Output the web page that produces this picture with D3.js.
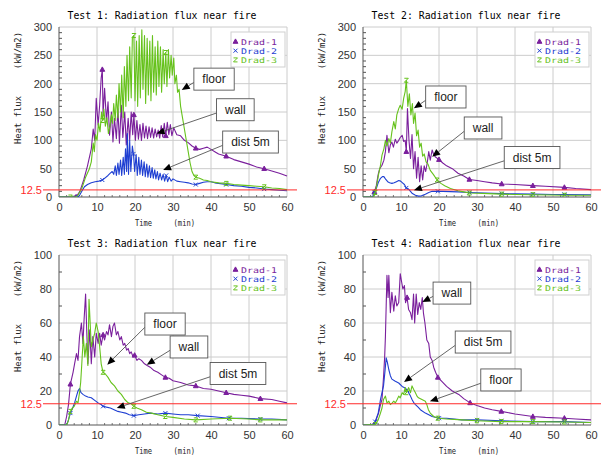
<!DOCTYPE html>
<html>
<head>
<meta charset="utf-8">
<script src="https://cdn.jsdelivr.net/npm/d3@7"></script>
<style>
body { margin: 0; background: #fff; }
</style>
</head>
<body>
<svg id="svg" width="608" height="455"></svg>
<script>
/*global d3*/

// ---- data (time in min, heat flux in kW/m2) ----
const sensorNames = ['Drad-1', 'Drad-2', 'Drad-3'];
const markerTimes = [3, 11.4, 19.7, 28.1, 36.4, 44.7, 53];
const xTicks = [0, 10, 20, 30, 40, 50, 60];
const limit = 12.5;

// Test 1
const t1Rad1 = [0,4.5,5.5,6.5,7.5,8.5,9,9.4,9.8,10.3,10.7,11.1,11.4,11.6,12,12.5,12.9,13.3,13.8,14.2,14.6,15.1,15.5,15.9,16.4,16.8,17.3,17.7,18.2,18.6,19,19.4,19.7,20.1,20.5,20.9,21.3,21.7,22.1,22.5,22.9,23.3,23.7,24.1,24.5,24.9,25.3,25.7,26.1,26.5,26.9,27.3,27.7,28.1,28.5,28.9,29.3,29.7,30.2,31,32,33,34,35,36,37,38,39,40,41,42,44,46,48,50,52,54,56,58,60];
const v1Rad1 = [0,0,10,30,55,85,120,100,174,127,162,210,225,145,192,133,168,109,150,97,139,103,156,95,162,105,150,92,139,100,150,110,145,100,135,102,128,100,130,104,125,103,124,105,122,104,120,106,118,104,126,106,130,108,132,110,128,108,122,110,108,100,96,90,86,84,86,88,84,80,76,72,66,62,58,53,50,46,42,37];
const t1Rad2 = [0,5,5.5,6,6.7,7.5,8.5,9.5,10.5,11.4,12,12.9,13.5,14,14.4,14.8,15.1,15.5,15.8,16.2,16.5,16.9,17.2,17.5,17.8,18,18.3,18.6,18.9,19.3,19.6,19.9,20.3,20.6,21,21.3,21.7,22,22.4,22.7,23.1,23.4,23.8,24.1,24.5,24.8,25.2,25.5,25.9,26.2,26.6,27,27.4,27.8,28.2,28.6,29,29.5,30,31,32,33,34,35,36,37,38,39,40,41,42,44,46,48,50,52,54,56,58,60];
const v1Rad2 = [0,0,4,10,18,22,25,27,28,30,33,38,42,45,40,55,38,60,40,65,38,70,40,85,45,112,40,100,45,90,76,45,75,38,70,40,65,38,62,36,58,35,55,34,52,33,48,32,45,30,42,30,40,28,38,27,35,28,32,28,27,26,25,23,22,24,26,27,27,25,24,22,20,19,17,16,14,13,12,11];
const t1Rad3 = [0,3,4.5,5,6,7,8,8.5,9,9.3,9.6,10,10.4,10.8,11.2,11.5,11.8,12.2,12.6,13,13.4,13.8,14.1,14.4,14.8,15.1,15.5,15.8,16.2,16.5,16.9,17.2,17.6,17.9,18.3,18.6,19,19.3,19.7,20,20.4,20.7,21.1,21.4,21.8,22.1,22.5,22.8,23.2,23.5,23.9,24.2,24.6,24.9,25.3,25.6,26,26.3,26.7,27,27.4,27.7,28.1,28.4,28.8,29.1,29.5,29.8,30.2,30.5,30.9,31.2,31.6,32,32.5,33,33.5,34,34.5,35,35.5,36,37,38,39,40,42,44,46,48,50,52,54,56,58,60];
const v1Rad3 = [0,0,0,3,15,35,50,62,95,80,110,100,130,115,150,135,155,125,140,112,125,145,130,165,135,180,140,200,150,215,140,230,160,250,170,265,175,280,285,170,275,160,285,175,295,190,285,165,280,180,275,170,285,185,265,180,275,195,265,185,260,200,255,195,260,210,250,215,245,200,215,185,190,160,140,120,100,80,60,45,38,35,33,30,29,27,25,24,22,21,20,19,18,16,15,13];

// Test 2
const t2Rad1 = [0,2.8,3,3.5,4,4.4,5,5.5,5.9,6.3,6.8,7.2,7.6,8,8.5,8.9,9.4,9.8,10.3,10.7,11.1,11.4,11.7,12.1,12.5,12.9,13.3,13.7,14.1,14.5,14.9,15.3,15.7,16.1,16.5,16.9,17.3,17.7,18.2,18.6,19,20,21,22,23.5,25,26.5,28,30,32,34,36.5,40,44.7,48,53,56,60];
const v2Rad1 = [0,0,9,20,40,50,56,65,80,109,78,92,97,88,102,95,100,105,109,98,100,80,156,100,68,110,50,80,33,70,27,55,30,55,45,60,80,65,83,75,71,66,60,55,50,42,37,31,29,27,25,23,22,20,19,17,15,13];
const t2Rad2 = [0,2.5,3,3.5,4,4.6,5.1,5.5,6,6.5,7,7.6,8.2,8.8,9.4,9.9,10.4,10.9,11.4,12,12.5,13,13.8,14.6,15.4,16.4,17.3,18.2,19.7,21,23,25,28,32,36.5,40,44.7,50,53,60];
const v2Rad2 = [0,0,8,15,25,33,36,36,31,27,25,24,25,27,29,28,25,22,16,14,10,6,3,1.5,2,5,8,10,10,10,9.5,9,8,7,6,5.5,5,4.5,4.5,4];
const t2Rad3 = [0,2.8,3.2,3.6,4.1,4.6,5,5.5,5.9,6.3,6.8,7.2,7.6,8.1,8.5,8.9,9.4,9.8,10.3,10.7,11.1,11.4,11.8,12.2,12.6,13,13.3,13.7,14.1,14.5,14.9,15.3,15.7,16.1,16.6,17.1,17.7,18.5,19.5,20.5,21.5,23,25,26.5,28,30,33,36.5,40,44.7,50,53,60];
const v2Rad3 = [0,0,8,20,40,56,74,85,100,90,103,95,115,133,120,145,156,162,155,174,186,206,160,182,145,165,130,148,108,118,88,95,72,76,62,58,47,40,30,24,20,15,11,9,7,6.5,6,5,4.5,4,3.5,3,3];

// Test 3
const t3Rad1 = [0,1.5,2,2.5,3,3.4,3.7,4.1,4.6,5,5.4,5.9,6.3,6.6,7,7.3,7.6,8.1,8.5,8.9,9.4,9.8,10.3,10.7,11.1,11.6,12,12.5,12.9,13.3,13.8,14.2,14.6,15.1,15.5,16,16.4,16.9,17.3,17.8,18.2,18.6,19,19.5,19.9,20.5,21,21.7,22.5,23.2,24,25,26,27,28,29,30,32,34,36,38,40,42,44,46,48,50,53,56,58,60];
const v3Rad1 = [0,0,5,12,24,28,31,36,42,38,52,60,48,62,77,55,36,56,36,52,40,54,48,54,47,53,50,55,53,59,52,58,60,53,55,50,52,47,48,44,45,42,43,40,41,38,39,38,36,35,34,32,31,29.5,28,27.5,26,25,23.5,23,21.5,21,20,19,18,17.5,17,15.5,15,14,13];
const t3Rad2 = [0,2,2.5,3,3.6,4.1,4.6,5,5.4,5.8,6.3,7,7.6,8.5,9.4,10.3,11.1,11.6,12.5,13.5,14.5,15.5,16.5,17.5,18.5,19.7,21,22.5,24,26,28,30,32,34,36.5,40,44.7,48,53,56,60];
const v3Rad2 = [0,0,3,7,10,13,17,20,21.5,19,18,17,16.5,16,14.5,13,12,11,10.5,10,9,8,7.5,7,6,5.5,6,6.5,7,6.5,7,6.5,6,6,5.5,5,4,4,3.5,3.5,3];
const t3Rad3 = [0,2,2.4,3,3.5,4,4.6,5,5.4,5.7,6,6.4,6.8,7.2,7.6,7.9,8.2,8.5,8.9,9.4,9.8,10.3,10.7,11.1,11.6,12.2,12.9,13.7,14.6,15.5,16.4,17.3,18.2,19,19.7,20.5,21.7,23,24.3,26,28,30,33,36,40,45,50,53,57,60];
const v3Rad3 = [0,0,2,8,10,11,14,13,19,25,36,52,40,48,35,74,60,46,50,54,60,55,46,36,31,30,28,25,23,20,18,15,13,12.5,11,10,9,7.5,7,6,5,4.5,3.5,3,3.5,4,3.5,3,3,3];

// Test 4
const t4Rad1 = [0,2.8,3.3,4.1,4.6,5,5.4,5.7,5.9,6.1,6.3,6.6,6.8,7.2,7.6,8.1,8.5,8.9,9.4,9.8,10.1,10.5,10.9,11.2,11.6,12,12.5,12.9,13.3,13.6,14,14.4,14.8,15.2,15.6,15.9,16.3,16.8,17.3,17.7,18.2,18.6,19.1,19.7,20.8,22,23.5,25.2,26.5,28.2,30,32,34,36.4,40,44.7,48,53,56,60];
const v4Rad1 = [0,0,2,7,12,15,28,40,52,70,88,75,88,66,78,67,76,70,72,89,85,80,82,72,75,68,66,62,77,60,77,65,72,68,75,66,60,50,48,40,38,34,31,28,25.5,22.7,20,18,15.5,13,11.5,10,9,8,6.5,5,4.5,4,3.5,3];
const t4Rad2 = [0,2.8,3.2,4,4.6,5,5.4,5.8,6.1,6.4,6.8,7.2,7.6,8.5,9.4,10.3,11.1,11.6,12,12.5,12.9,13.4,13.8,14.5,15.1,16.4,18.2,20,22,26,30,36.4,44.7,53,60];
const v4Rad2 = [0,0,2,7,15,19,23,32,39.5,37,32.5,29,27,25.7,24.7,22.7,21.8,20.5,19,17,15,13,12,10.5,9,7,5,4,4,3,3,2.5,2,2,1.5];
const t4Rad3 = [0,3.2,4,4.6,5,5.4,5.9,6.3,6.8,7.2,7.7,8.1,8.5,9,9.4,9.8,10.3,10.7,11.1,11.4,11.6,12,12.5,12.9,13.3,13.8,14.2,14.6,15.5,16.4,16.8,17.2,17.7,18.6,19.7,22,26,30,36.4,44.7,53,60];
const v4Rad3 = [0,0.2,3,7,10,15,17,13,14,12,13,14,13,15,17,16,19,18,22,19,20,22,19,23,21,19,17,16,15,14,12,9,7,5,4,3.5,3,2.5,2,2,1.8,1.5];

// ---- annotation layout (label centre and arrow tip, in data units) ----
const notes1 = [['floor', 40.8, 208, 32.3, 189], ['wall', 46.4, 154, 25.7, 112], ['dist 5m', 50.4, 97, 27.4, 47.6]];
const notes2 = [['floor', 21.8, 176.5, 13.4, 156.5], ['wall', 31.6, 121.8, 18.2, 71], ['dist 5m', 44.5, 69.7, 13.4, 12]];
const notes3 = [['floor', 27.9, 59.4, 12.7, 35.5], ['wall', 34.2, 45.9, 23.1, 35.5], ['dist 5m', 47.1, 30.3, 15.2, 10]];
const notes4 = [['wall', 23.4, 77.6, 15.6, 72.4], ['dist 5m', 31.6, 48.8, 10.8, 25.3], ['floor', 36.3, 26.5, 17.6, 13.9]];

const tests = [
    {title: 'Test 1: Radiation flux near fire', ox: 0, oy: 0, yMax: 300, yStep: 50,
     series: [[t1Rad1, v1Rad1], [t1Rad2, v1Rad2], [t1Rad3, v1Rad3]], notes: notes1},
    {title: 'Test 2: Radiation flux near fire', ox: 304, oy: 0, yMax: 300, yStep: 50,
     series: [[t2Rad1, v2Rad1], [t2Rad2, v2Rad2], [t2Rad3, v2Rad3]], notes: notes2},
    {title: 'Test 3: Radiation flux near fire', ox: 0, oy: 228, yMax: 100, yStep: 20,
     series: [[t3Rad1, v3Rad1], [t3Rad2, v3Rad2], [t3Rad3, v3Rad3]], notes: notes3},
    {title: 'Test 4: Radiation flux near fire', ox: 304, oy: 228, yMax: 100, yStep: 20,
     series: [[t4Rad1, v4Rad1], [t4Rad2, v4Rad2], [t4Rad3, v4Rad3]], notes: notes4}
];

const colors = ['#7a1f9c', '#1f3fd2', '#66c21c'];
const mono = "'DejaVu Sans Mono', monospace";
const sans = "'Liberation Sans', Arial, sans-serif";

const svg = d3.select('#svg');

const markerPath = [
    'M0,-2.6L2.4,1.8L-2.4,1.8Z',        // triangle
    'M-2,-2L2,2M-2,2L2,-2',             // x
    'M-2,-2H2L-2,2H2'                   // z
];

const drawPanel = (p, idx) => {
    const left = p.ox + 59, right = p.ox + 287;
    const top = p.oy + 27, bottom = p.oy + 197;

    const x = d3.scaleLinear().domain([0, 60]).range([left, right]);
    const y = d3.scaleLinear().domain([0, p.yMax]).range([bottom, top]);

    const g = svg.append('g');

    // title
    g.append('text')
        .attr('x', p.ox + 162).attr('y', p.oy + 19)
        .attr('text-anchor', 'middle')
        .attr('font-family', mono).attr('font-size', 10)
        .attr('textLength', 189).attr('lengthAdjust', 'spacingAndGlyphs')
        .attr('fill', '#000')
        .text(p.title);

    // grid
    const yMajor = d3.range(0, p.yMax + 0.001, p.yStep);
    g.append('g').selectAll('line').data(xTicks.slice(1))
        .enter().append('line')
        .attr('x1', d => x(d)).attr('x2', d => x(d))
        .attr('y1', top).attr('y2', bottom)
        .attr('stroke', '#cccccc');
    g.append('g').selectAll('line').data(yMajor.slice(1))
        .enter().append('line')
        .attr('x1', left).attr('x2', right)
        .attr('y1', d => y(d)).attr('y2', d => y(d))
        .attr('stroke', '#cccccc');

    // axes labels
    const yAxisG = g.append('g')
        .attr('transform', `translate(${left},0)`)
        .call(d3.axisLeft(y).tickValues(yMajor).tickSize(0).tickPadding(7));
    yAxisG.select('.domain').remove();
    yAxisG.selectAll('text').attr('font-family', sans).attr('font-size', 11).attr('fill', '#333');

    const xAxisG = g.append('g')
        .attr('transform', `translate(0,${bottom})`)
        .call(d3.axisBottom(x).tickValues(xTicks).tickSize(0).tickPadding(6));
    xAxisG.select('.domain').remove();
    xAxisG.selectAll('text').attr('font-family', sans).attr('font-size', 11).attr('fill', '#333');

    // minor ticks
    const yMinor = d3.range(0, p.yMax + 0.001, 10).filter(v => v % p.yStep !== 0);
    g.append('g').selectAll('line').data(yMinor)
        .enter().append('line')
        .attr('x1', left).attr('x2', left + 3)
        .attr('y1', d => y(d)).attr('y2', d => y(d))
        .attr('stroke', '#555');
    g.append('g').selectAll('line').data(d3.range(2, 60, 2).filter(v => v % 10 !== 0))
        .enter().append('line')
        .attr('x1', d => x(d)).attr('x2', d => x(d))
        .attr('y1', bottom).attr('y2', bottom - 2)
        .attr('stroke', '#777');

    // axis lines
    g.append('line').attr('x1', left).attr('x2', left).attr('y1', top).attr('y2', bottom)
        .attr('stroke', '#555');
    g.append('line').attr('x1', left).attr('x2', right).attr('y1', bottom).attr('y2', bottom)
        .attr('stroke', '#555');

    // axis titles
    g.append('text')
        .attr('transform', `translate(${p.ox + 21},${p.oy + 88}) rotate(-90)`)
        .attr('text-anchor', 'middle')
        .attr('font-family', mono).attr('font-size', 9)
        .attr('textLength', 112).attr('lengthAdjust', 'spacingAndGlyphs')
        .attr('fill', '#222')
        .attr('xml:space', 'preserve')
        .text('Heat flux     (kW/m2)');
    g.append('text')
        .attr('x', p.ox + 165).attr('y', p.oy + 226)
        .attr('text-anchor', 'middle')
        .attr('font-family', mono).attr('font-size', 9)
        .attr('textLength', 60).attr('lengthAdjust', 'spacingAndGlyphs')
        .attr('fill', '#222')
        .attr('xml:space', 'preserve')
        .text('Time     (min)');

    // series
    const clipId = 'clip' + idx;
    svg.append('clipPath').attr('id', clipId)
        .append('rect').attr('x', left).attr('y', top - 2)
        .attr('width', right - left + 1).attr('height', bottom - top + 2);

    const line = d3.line().x(d => x(d[0])).y(d => y(d[1]));
    const seriesG = g.append('g').attr('clip-path', `url(#${clipId})`);
    p.series.forEach(([ts, vs], k) => {
        const pts = ts.map((t, i) => [t, vs[i]]);
        seriesG.append('path')
            .datum(pts)
            .attr('d', line)
            .attr('fill', 'none')
            .attr('stroke', colors[k])
            .attr('stroke-width', 1.1)
            .attr('stroke-linejoin', 'round');

        const bis = d3.bisector(d => d[0]).center;
        const marks = markerTimes.map(mt => pts[bis(pts, mt)]);
        seriesG.selectAll(null).data(marks)
            .enter().append('path')
            .attr('transform', d => `translate(${x(d[0])},${y(d[1])})`)
            .attr('d', markerPath[k])
            .attr('fill', k === 0 ? colors[k] : 'none')
            .attr('stroke', colors[k])
            .attr('stroke-width', 1);
    });

    // 12.5 limit
    g.append('line')
        .attr('x1', p.ox + 43).attr('x2', right + 10)
        .attr('y1', y(limit)).attr('y2', y(limit))
        .attr('stroke', '#ff2a2a').attr('stroke-width', 1);
    g.append('text')
        .attr('x', p.ox + 42).attr('y', y(limit)).attr('dy', '0.35em')
        .attr('text-anchor', 'end')
        .attr('font-family', sans).attr('font-size', 11)
        .attr('fill', '#ff2a2a')
        .text(limit);

    // legend
    const lg = g.append('g').attr('transform', `translate(${p.ox + 231},${p.oy + 32})`);
    lg.append('rect').attr('width', 54).attr('height', 35)
        .attr('fill', '#fff').attr('stroke', '#cfcfcf');
    sensorNames.forEach((name, k) => {
        const cy = 9.5 + k * 9.2;
        lg.append('path')
            .attr('transform', `translate(4.5,${cy})`)
            .attr('d', markerPath[k])
            .attr('fill', k === 0 ? colors[k] : 'none')
            .attr('stroke', colors[k]);
        lg.append('text')
            .attr('x', 10).attr('y', cy + 3)
            .attr('font-family', mono).attr('font-size', 7.8)
            .attr('textLength', 36).attr('lengthAdjust', 'spacingAndGlyphs')
            .attr('fill', colors[k])
            .text(name);
    });

    // annotations
    p.notes.forEach(([label, ct, cv, ht, hv]) => {
        const cx = x(ct), cy = y(cv);
        const hx = x(ht), hy = y(hv);
        const ng = g.append('g');
        const txt = ng.append('text')
            .attr('x', cx).attr('y', cy).attr('dy', '0.36em')
            .attr('text-anchor', 'middle')
            .attr('font-family', sans).attr('font-size', 12)
            .attr('fill', '#222')
            .text(label);
        const w = txt.node().getComputedTextLength() + 17;
        const h = 22;
        const tx = cx - w / 2, ty = cy + h * 0.15;
        const ang = Math.atan2(hy - ty, hx - tx);
        const L = 8, Wd = 7;
        const bx = hx - L * Math.cos(ang), by = hy - L * Math.sin(ang);
        ng.insert('line', 'text')
            .attr('x1', tx).attr('y1', ty).attr('x2', bx).attr('y2', by)
            .attr('stroke', '#555').attr('stroke-width', 0.9);
        ng.insert('path', 'text')
            .attr('d', `M${hx},${hy}L${bx - Wd / 2 * Math.sin(ang)},${by + Wd / 2 * Math.cos(ang)}L${bx + Wd / 2 * Math.sin(ang)},${by - Wd / 2 * Math.cos(ang)}Z`)
            .attr('fill', '#000');
        ng.insert('rect', 'text')
            .attr('x', cx - w / 2).attr('y', cy - h / 2)
            .attr('width', w).attr('height', h)
            .attr('fill', '#fff').attr('stroke', '#555').attr('stroke-width', 0.9);
    });
};

tests.forEach(drawPanel);
</script>
</body>
</html>
